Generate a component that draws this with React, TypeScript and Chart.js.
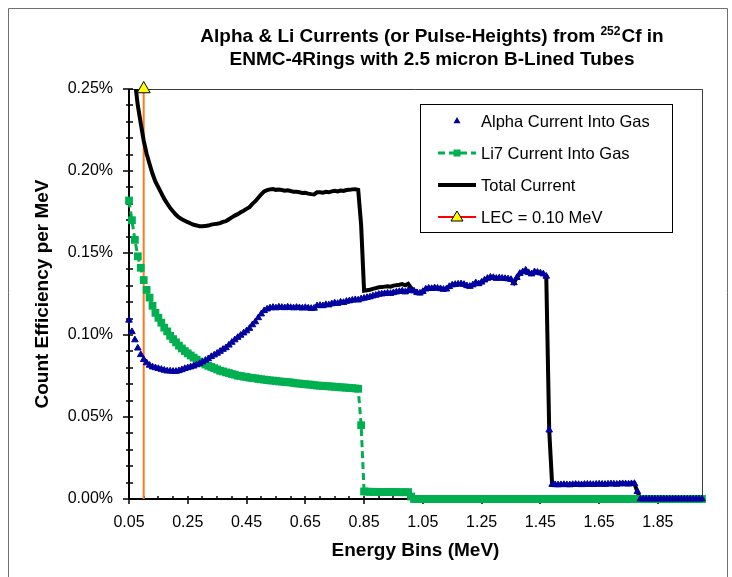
import { useEffect, useRef } from 'react';
import { Chart, registerables } from 'chart.js';

Chart.register(...registerables);

// Energy bins (MeV)
const energyBins = [
  0.05, 0.06, 0.07, 0.08, 0.09, 0.10, 0.11, 0.12, 0.13, 0.14,
  0.15, 0.16, 0.17, 0.18, 0.19, 0.20, 0.21, 0.22, 0.23, 0.24,
  0.25, 0.26, 0.27, 0.28, 0.29, 0.30, 0.31, 0.32, 0.33, 0.34,
  0.35, 0.36, 0.37, 0.38, 0.39, 0.40, 0.41, 0.42, 0.43, 0.44,
  0.45, 0.46, 0.47, 0.48, 0.49, 0.50, 0.51, 0.52, 0.53, 0.54,
  0.55, 0.56, 0.57, 0.58, 0.59, 0.60, 0.61, 0.62, 0.63, 0.64,
  0.65, 0.66, 0.67, 0.68, 0.69, 0.70, 0.71, 0.72, 0.73, 0.74,
  0.75, 0.76, 0.77, 0.78, 0.79, 0.80, 0.81, 0.82, 0.83, 0.84,
  0.85, 0.86, 0.87, 0.88, 0.89, 0.90, 0.91, 0.92, 0.93, 0.94,
  0.95, 0.96, 0.97, 0.98, 0.99, 1.00, 1.01, 1.02, 1.03, 1.04,
  1.05, 1.06, 1.07, 1.08, 1.09, 1.10, 1.11, 1.12, 1.13, 1.14,
  1.15, 1.16, 1.17, 1.18, 1.19, 1.20, 1.21, 1.22, 1.23, 1.24,
  1.25, 1.26, 1.27, 1.28, 1.29, 1.30, 1.31, 1.32, 1.33, 1.34,
  1.35, 1.36, 1.37, 1.38, 1.39, 1.40, 1.41, 1.42, 1.43, 1.44,
  1.45, 1.46, 1.47, 1.48, 1.49, 1.50, 1.51, 1.52, 1.53, 1.54,
  1.55, 1.56, 1.57, 1.58, 1.59, 1.60, 1.61, 1.62, 1.63, 1.64,
  1.65, 1.66, 1.67, 1.68, 1.69, 1.70, 1.71, 1.72, 1.73, 1.74,
  1.75, 1.76, 1.77, 1.78, 1.79, 1.80, 1.81, 1.82, 1.83, 1.84,
  1.85, 1.86, 1.87, 1.88, 1.89, 1.90, 1.91, 1.92, 1.93, 1.94,
  1.95, 1.96, 1.97, 1.98, 1.99, 2.00,
];

// Count efficiency per MeV (%)
const alphaCurrent = [
  0.109, 0.102, 0.097, 0.092, 0.088, 0.085, 0.083, 0.0815, 0.0805, 0.080,
  0.0795, 0.079, 0.0785, 0.078, 0.078, 0.0778, 0.0778, 0.0782, 0.0788, 0.0795,
  0.0800, 0.0805, 0.0810, 0.0818, 0.0825, 0.0835, 0.0845, 0.0855, 0.0868, 0.0878,
  0.0888, 0.0900, 0.0912, 0.0922, 0.0938, 0.0955, 0.0970, 0.0985, 0.0998, 0.1012,
  0.1025, 0.1040, 0.1062, 0.1080, 0.1105, 0.1128, 0.1148, 0.1158, 0.1165, 0.1168,
  0.1165, 0.1170, 0.1168, 0.1166, 0.1170, 0.1167, 0.1165, 0.1168, 0.1166, 0.1164,
  0.1167, 0.1164, 0.1162, 0.1163, 0.1178, 0.1180, 0.1178, 0.1185, 0.1183, 0.1190,
  0.1195, 0.1192, 0.1200, 0.1198, 0.1205, 0.1208, 0.1212, 0.1215, 0.1213, 0.1220,
  0.1224, 0.1228, 0.1232, 0.1238, 0.1242, 0.1248, 0.1250, 0.1252, 0.1255, 0.1253,
  0.1258, 0.1262, 0.1265, 0.1268, 0.1262, 0.1270, 0.1272, 0.1268, 0.1258, 0.1255,
  0.1265, 0.1280, 0.1285, 0.1283, 0.1287, 0.1285, 0.1282, 0.1278, 0.1280, 0.1295,
  0.1305, 0.1308, 0.1310, 0.1312, 0.1308, 0.1300, 0.1296, 0.1305, 0.1318, 0.1312,
  0.1322, 0.1335, 0.1345, 0.1352, 0.1350, 0.1345, 0.1348, 0.1346, 0.1344, 0.1342,
  0.1338, 0.1318, 0.1350, 0.1375, 0.1385, 0.1395, 0.1380, 0.1372, 0.1385, 0.1382,
  0.1378, 0.1372, 0.1358, 0.0420, 0.0088, 0.0087, 0.0086, 0.0087, 0.0088, 0.0087,
  0.0086, 0.0088, 0.0089, 0.0088, 0.0087, 0.0089, 0.0090, 0.0089, 0.0088, 0.0090,
  0.0091, 0.0090, 0.0089, 0.0091, 0.0092, 0.0091, 0.0090, 0.0092, 0.0093, 0.0092,
  0.0091, 0.0093, 0.0094, 0.0045, 0, 0, 0, 0, 0, 0,
  0, 0, 0, 0, 0, 0, 0, 0, 0, 0,
  0, 0, 0, 0, 0, 0,
];

const li7Current = [
  0.182, 0.170, 0.158, 0.148, 0.141, 0.1335, 0.1275, 0.1228, 0.1178, 0.1135,
  0.1105, 0.1075, 0.1045, 0.1022, 0.0995, 0.0975, 0.0955, 0.0935, 0.0918, 0.0902,
  0.0888, 0.0875, 0.0862, 0.0850, 0.0838, 0.0828, 0.0820, 0.0812, 0.0805, 0.0798,
  0.0790, 0.0782, 0.0778, 0.0772, 0.0768, 0.0762, 0.0758, 0.0752, 0.0750, 0.0746,
  0.0744, 0.0740, 0.0738, 0.0736, 0.0732, 0.0730, 0.0728, 0.0725, 0.0723, 0.0722,
  0.0720, 0.0717, 0.0716, 0.0714, 0.0712, 0.0711, 0.0708, 0.0705, 0.0704, 0.0702,
  0.0700, 0.0698, 0.0697, 0.0694, 0.0692, 0.0691, 0.0690, 0.0688, 0.0687, 0.0686,
  0.0684, 0.0683, 0.0681, 0.0680, 0.0679, 0.0677, 0.0676, 0.0674, 0.0672, 0.0450,
  0.0046, 0.0045, 0.0044, 0.0043, 0.0044, 0.0043, 0.0042, 0.0043, 0.0042, 0.0042,
  0.0043, 0.0042, 0.0041, 0.0042, 0.0041, 0.0042, 0.0015, 0, 0, 0,
  0, 0, 0, 0, 0, 0, 0, 0, 0, 0,
  0, 0, 0, 0, 0, 0, 0, 0, 0, 0,
  0, 0, 0, 0, 0, 0, 0, 0, 0, 0,
  0, 0, 0, 0, 0, 0, 0, 0, 0, 0,
  0, 0, 0, 0, 0, 0, 0, 0, 0, 0,
  0, 0, 0, 0, 0, 0, 0, 0, 0, 0,
  0, 0, 0, 0, 0, 0, 0, 0, 0, 0,
  0, 0, 0, 0, 0, 0, 0, 0, 0, 0,
  0, 0, 0, 0, 0, 0, 0, 0, 0, 0,
  0, 0, 0, 0, 0, 0,
];

const totalCurrent = [
  0.291, 0.272, 0.255, 0.240, 0.229, 0.2185, 0.2105, 0.2043, 0.1983, 0.1935,
  0.1900, 0.1865, 0.1830, 0.1802, 0.1775, 0.1753, 0.1733, 0.1717, 0.1706, 0.1697,
  0.1688, 0.1680, 0.1672, 0.1668, 0.1663, 0.1663, 0.1665, 0.1667, 0.1673, 0.1676,
  0.1678, 0.1682, 0.1690, 0.1694, 0.1706, 0.1717, 0.1728, 0.1737, 0.1748, 0.1758,
  0.1769, 0.1780, 0.1800, 0.1816, 0.1837, 0.1858, 0.1876, 0.1883, 0.1888, 0.1890,
  0.1885, 0.1887, 0.1884, 0.1880, 0.1882, 0.1878, 0.1873, 0.1873, 0.1870, 0.1866,
  0.1867, 0.1862, 0.1859, 0.1857, 0.1870, 0.1871, 0.1868, 0.1873, 0.1870, 0.1876,
  0.1879, 0.1875, 0.1881, 0.1878, 0.1884, 0.1885, 0.1888, 0.1889, 0.1885, 0.1670,
  0.1270, 0.1273, 0.1276, 0.1281, 0.1286, 0.1291, 0.1292, 0.1295, 0.1297, 0.1295,
  0.1301, 0.1304, 0.1306, 0.1310, 0.1303, 0.1312, 0.1287, 0.1268, 0.1258, 0.1255,
  0.1265, 0.1280, 0.1285, 0.1283, 0.1287, 0.1285, 0.1282, 0.1278, 0.1280, 0.1295,
  0.1305, 0.1308, 0.1310, 0.1312, 0.1308, 0.1300, 0.1296, 0.1305, 0.1318, 0.1312,
  0.1322, 0.1335, 0.1345, 0.1352, 0.1350, 0.1345, 0.1348, 0.1346, 0.1344, 0.1342,
  0.1338, 0.1318, 0.1350, 0.1375, 0.1385, 0.1395, 0.1380, 0.1372, 0.1385, 0.1382,
  0.1378, 0.1372, 0.1358, 0.0420, 0.0088, 0.0087, 0.0086, 0.0087, 0.0088, 0.0087,
  0.0086, 0.0088, 0.0089, 0.0088, 0.0087, 0.0089, 0.0090, 0.0089, 0.0088, 0.0090,
  0.0091, 0.0090, 0.0089, 0.0091, 0.0092, 0.0091, 0.0090, 0.0092, 0.0093, 0.0092,
  0.0091, 0.0093, 0.0094, 0.0045, 0, 0, 0, 0, 0, 0,
  0, 0, 0, 0, 0, 0, 0, 0, 0, 0,
  0, 0, 0, 0, 0, 0,
];

// LEC marker line
const lecEnergy = [0.10, 0.10];
const lecValues = [0, 0.25];

// Axis ticks
const xTickValues = [0.05, 0.25, 0.45, 0.65, 0.85, 1.05, 1.25, 1.45, 1.65, 1.85];
const yTickValues = [0, 0.05, 0.10, 0.15, 0.20, 0.25];
const xMinorStep = 0.05;
const yMinorStep = 0.01;

const titleLine1a = 'Alpha & Li Currents (or Pulse-Heights) from ';
const titleSup = '252';
const titleLine1b = 'Cf in';
const titleLine2 = 'ENMC-4Rings with 2.5 micron B-Lined Tubes';
const xTitle = 'Energy Bins (MeV)';
const yTitle = 'Count Efficiency per MeV';
const legendLabels = ['Alpha Current Into Gas', 'Li7 Current Into Gas', 'Total Current', 'LEC = 0.10 MeV'];

const FONT = '"Liberation Sans", Arial, sans-serif';
const BLUE = '#0000A0';
const GREEN = '#00B050';
const ORANGE = '#FF7A1F';

const framePlugin = {
  id: 'frame',
  beforeDraw(chart: any) {
    const ctx = chart.ctx;
    ctx.save();
    ctx.fillStyle = '#fff';
    ctx.fillRect(0, 0, chart.width, chart.height);
    ctx.strokeStyle = '#6e6e6e';
    ctx.lineWidth = 1;
    ctx.beginPath();
    ctx.moveTo(8.5, chart.height);
    ctx.lineTo(8.5, 8.5);
    ctx.lineTo(727.5, 8.5);
    ctx.lineTo(727.5, chart.height);
    ctx.stroke();
    ctx.restore();
  },
};

const axesPlugin = {
  id: 'axesDraw',
  beforeDatasetsDraw(chart: any) {
    const { ctx, chartArea, scales } = chart;
    const { left, right, top, bottom } = chartArea;
    const x = scales.x;
    const y = scales.y;
    ctx.save();
    ctx.strokeStyle = '#3c3c3c';
    ctx.lineWidth = 1;
    ctx.beginPath();
    ctx.moveTo(left, top + 0.5);
    ctx.lineTo(right + 0.5, top + 0.5);
    ctx.lineTo(right + 0.5, bottom);
    ctx.stroke();
    ctx.strokeStyle = '#000';
    ctx.lineWidth = 1.5;
    ctx.beginPath();
    for (let v = 0; v <= 0.25 + 1e-9; v += yMinorStep) {
      const vv = Math.round(v * 100) / 100;
      const py = Math.round(y.getPixelForValue(vv));
      const isMajor = yTickValues.some((t) => Math.abs(t - vv) < 1e-6);
      ctx.moveTo(left - (isMajor ? 6 : 3), py);
      ctx.lineTo(left + 4, py);
    }
    for (let v = 0.05; v <= 2.0 + 1e-9; v += xMinorStep) {
      const vv = Math.round(v * 100) / 100;
      const px = Math.round(x.getPixelForValue(vv));
      const isMajor = xTickValues.some((t) => Math.abs(t - vv) < 1e-6);
      ctx.moveTo(px, bottom - 3);
      ctx.lineTo(px, bottom + (isMajor ? 5 : 1));
    }
    ctx.stroke();
    ctx.lineWidth = 2;
    ctx.beginPath();
    ctx.moveTo(left, top);
    ctx.lineTo(left, bottom);
    ctx.lineTo(right, bottom);
    ctx.stroke();
    ctx.restore();
  },
};

const textPlugin = {
  id: 'texts',
  afterDraw(chart: any) {
    const ctx = chart.ctx;
    const { left, right, top, bottom } = chart.chartArea;
    ctx.save();
    ctx.fillStyle = '#000';
    ctx.textBaseline = 'middle';

    const cx = 432;
    const big = `bold 19px ${FONT}`;
    const small = `bold 12px ${FONT}`;
    ctx.font = big;
    const w1 = ctx.measureText(titleLine1a).width;
    const w3 = ctx.measureText(titleLine1b).width;
    ctx.font = small;
    const w2 = ctx.measureText(titleSup).width + 1;
    const sx = cx - (w1 + w2 + w3) / 2;
    ctx.textAlign = 'left';
    ctx.font = big;
    ctx.fillText(titleLine1a, sx, 37);
    ctx.font = small;
    ctx.fillText(titleSup, sx + w1, 32);
    ctx.font = big;
    ctx.fillText(titleLine1b, sx + w1 + w2, 37);
    ctx.textAlign = 'center';
    ctx.fillText(titleLine2, cx, 60);

    ctx.font = `bold 19px ${FONT}`;
    ctx.fillText(xTitle, (left + right) / 2, 551);
    ctx.save();
    ctx.translate(43, (top + bottom) / 2);
    ctx.rotate(-Math.PI / 2);
    ctx.fillText(yTitle, 0, 0);
    ctx.restore();

    // Legend
    const bx = 420, by = 104, bw = 252, bh = 128;
    ctx.fillStyle = '#fff';
    ctx.fillRect(bx, by, bw, bh);
    ctx.strokeStyle = '#000';
    ctx.lineWidth = 1;
    ctx.strokeRect(bx + 0.5, by + 0.5, bw, bh);
    const rows = [121, 153, 185, 217];
    const l0 = 438, l1 = 476, lc = 457;
    ctx.fillStyle = BLUE;
    ctx.beginPath();
    ctx.moveTo(lc, rows[0] - 4);
    ctx.lineTo(lc + 3.5, rows[0] + 2.2);
    ctx.lineTo(lc - 3.5, rows[0] + 2.2);
    ctx.closePath();
    ctx.fill();
    ctx.strokeStyle = GREEN;
    ctx.lineWidth = 3;
    ctx.setLineDash([7, 4]);
    ctx.beginPath();
    ctx.moveTo(l0, rows[1]);
    ctx.lineTo(l1, rows[1]);
    ctx.stroke();
    ctx.setLineDash([]);
    ctx.fillStyle = GREEN;
    ctx.fillRect(lc - 3.5, rows[1] - 3.5, 7, 7);
    ctx.strokeStyle = '#000';
    ctx.lineWidth = 4;
    ctx.beginPath();
    ctx.moveTo(l0, rows[2]);
    ctx.lineTo(l1, rows[2]);
    ctx.stroke();
    ctx.strokeStyle = '#FF0000';
    ctx.lineWidth = 2;
    ctx.beginPath();
    ctx.moveTo(l0, rows[3]);
    ctx.lineTo(l1, rows[3]);
    ctx.stroke();
    ctx.fillStyle = '#FFFF00';
    ctx.strokeStyle = '#000';
    ctx.lineWidth = 1;
    ctx.beginPath();
    ctx.moveTo(lc, rows[3] - 6);
    ctx.lineTo(lc + 6, rows[3] + 4);
    ctx.lineTo(lc - 6, rows[3] + 4);
    ctx.closePath();
    ctx.fill();
    ctx.stroke();

    ctx.fillStyle = '#000';
    ctx.textAlign = 'left';
    ctx.font = `16.5px ${FONT}`;
    legendLabels.forEach((t, i) => ctx.fillText(t, 481, rows[i] + 1));
    ctx.restore();
  },
};

export default function App() {
  const ref = useRef<HTMLCanvasElement | null>(null);

  useEffect(() => {
    if (!ref.current) return;
    const toPts = (vals: number[]) => energyBins.map((e, i) => ({ x: e, y: vals[i] }));
    const chart = new Chart(ref.current, {
      type: 'line',
      data: {
        datasets: [
          {
            label: legendLabels[0],
            data: toPts(alphaCurrent),
            showLine: false,
            pointStyle: 'triangle',
            pointRadius: 3.8,
            pointBackgroundColor: BLUE,
            pointBorderColor: BLUE,
            pointBorderWidth: 1,
            borderColor: BLUE,
            backgroundColor: BLUE,
            order: 0,
            clip: false,
          },
          {
            label: legendLabels[1],
            data: toPts(li7Current),
            borderColor: GREEN,
            backgroundColor: GREEN,
            borderWidth: 3,
            borderDash: [7, 4],
            pointStyle: 'rect',
            pointRadius: 5.5,
            pointBackgroundColor: GREEN,
            pointBorderWidth: 0,
            tension: 0,
            order: 1,
            clip: false,
          },
          {
            label: legendLabels[2],
            data: toPts(totalCurrent),
            borderColor: '#000',
            backgroundColor: '#000',
            borderWidth: 4,
            pointRadius: 0,
            tension: 0,
            order: 2,
            clip: 0,
          },
          {
            label: legendLabels[3],
            data: lecEnergy.map((e, i) => ({ x: e, y: lecValues[i] })),
            borderColor: ORANGE,
            borderWidth: 2,
            pointRadius: 0,
            order: 5,
            clip: false,
          },
          {
            label: 'LEC marker',
            data: [{ x: lecEnergy[1], y: lecValues[1] }],
            showLine: false,
            pointStyle: 'triangle',
            pointRadius: 7.5,
            pointBackgroundColor: '#FFFF00',
            pointBorderColor: '#000',
            pointBorderWidth: 1,
            order: -1,
            clip: false,
          },
        ] as any,
      },
      options: {
        animation: false,
        responsive: false,
        maintainAspectRatio: false,
        devicePixelRatio: 1,
        layout: { padding: { left: 0, right: 30, top: 89, bottom: 0 } },
        plugins: {
          legend: { display: false },
          title: { display: false },
          tooltip: { enabled: false },
        },
        scales: {
          x: {
            type: 'linear',
            min: 0.05,
            max: 2.0,
            grid: { display: false, drawTicks: false },
            border: { display: false },
            afterBuildTicks: (s: any) => {
              s.ticks = xTickValues.map((v) => ({ value: v }));
            },
            afterFit: (s: any) => {
              s.height = 78;
            },
            ticks: {
              autoSkip: false,
              maxRotation: 0,
              padding: 14,
              color: '#000',
              font: { family: FONT, size: 16 },
              callback: (v: any) => Number(v).toFixed(2),
            },
          },
          y: {
            type: 'linear',
            min: 0,
            max: 0.25,
            grid: { display: false, drawTicks: false },
            border: { display: false },
            afterBuildTicks: (s: any) => {
              s.ticks = yTickValues.map((v) => ({ value: v }));
            },
            afterFit: (s: any) => {
              s.width = 129;
            },
            ticks: {
              padding: 16,
              color: '#000',
              font: { family: FONT, size: 16 },
              callback: (v: any) => Number(v).toFixed(2) + '%',
            },
          },
        },
      } as any,
      plugins: [framePlugin, axesPlugin, textPlugin],
    });
    return () => chart.destroy();
  }, []);

  return (
    <div style={{ position: 'absolute', left: 0, top: 0, width: 732, height: 577, overflow: 'hidden' }}>
      <canvas ref={ref} width={732} height={577} style={{ width: 732, height: 577, display: 'block' }} />
    </div>
  );
}
